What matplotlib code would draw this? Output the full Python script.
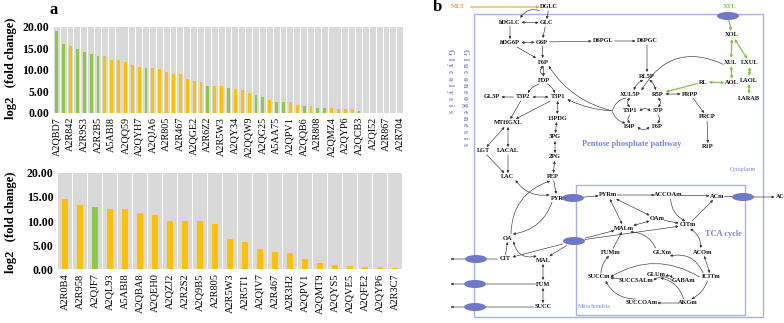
import matplotlib.pyplot as plt
import numpy as np
from matplotlib.patches import Rectangle, Ellipse

# ---------------- panel a data ----------------
top_labels = ['A2QBD7', 'A2R842', 'A2R9S3', 'A2R2B5', 'A5ABI8', 'A2QQ59', 'A2QYH7', 'A2QJA6',
              'A2R805', 'A2R467', 'A2QGE2', 'A2R6Z2', 'A2R5W3', 'A2QY34', 'A2QQW9', 'A2QG25',
              'A5AA75', 'A2QPV1', 'A2QQB6', 'A2R808', 'A2QMZ4', 'A2QYP6', 'A2QCB3', 'A2QI52',
              'A2R867', 'A2R704']
top_values = [19.0, 16.0, 15.4, 14.8, 14.0, 13.7, 13.3, 13.2, 12.3, 12.2, 11.8, 11.1, 10.7,
              10.5, 10.4, 10.1, 9.5, 9.1, 9.0, 7.8, 7.4, 7.1, 6.3, 6.3, 6.3, 5.7, 5.5, 5.3,
              4.5, 4.2, 3.7, 2.9, 2.6, 2.5, 2.4, 1.8, 1.6, 1.5, 1.2, 1.0, 1.1, 0.85, 0.8, 0.8,
              0.35, 0, 0, 0, 0, 0, 0]
top_colors = list('GGOGGGGOOOOOOGOOOOOOOOGOOGOOOGGOGGOOGOGGOOOOG') + ['O'] * 6

bot_labels = ['A2R0B4', 'A2R958', 'A2QJF7', 'A2QL93', 'A5ABI8', 'A2QBA8', 'A2QEH0', 'A2QZJ2',
              'A2R2S2', 'A2Q9B5', 'A2R805', 'A2R5W3', 'A2R5T1', 'A2QIV7', 'A2R467', 'A2R3H2',
              'A2QPV1', 'A2QMT9', 'A2QYS5', 'A2QVE5', 'A2QFE2', 'A2QYP6', 'A2R3C7']
bot_values = [14.6, 13.3, 12.9, 12.4, 12.4, 11.6, 11.2, 10.1, 10.1, 10.0, 9.4, 6.3, 5.7, 4.1,
              3.5, 3.3, 2.2, 1.4, 0.9, 0.6, 0.55, 0.5, 0.35]
bot_colors = list('OOGOOOOOOOOOOOOOOOOOOOO')

ORANGE = '#ffc000'
GREEN = '#8cc94a'
GREY = '#d9d9d9'
cmap = {'O': ORANGE, 'G': GREEN}
SERIF = 'Liberation Serif'

fig = plt.figure(figsize=(7.84, 3.23), dpi=100)
W, H = 784.0, 323.0


def ax_px(x0, y0, x1, y1):
    return fig.add_axes([x0 / W, 1 - y1 / H, (x1 - x0) / W, (y1 - y0) / H])


def style_bar_axis(ax):
    for s in ax.spines.values():
        s.set_visible(False)
    ax.set_ylim(0, 20)
    ax.set_yticks([0, 5, 10, 15, 20])
    ax.set_yticklabels([f'{v:.2f}' for v in [0, 5, 10, 15, 20]],
                       fontsize=8.5, fontweight='bold', family=SERIF)
    ax.tick_params(axis='both', length=0)
    ax.tick_params(axis='y', pad=3)
    ax.tick_params(axis='x', pad=3)


# top chart
ax1 = ax_px(53.3, 26.7, 403.7, 112.7)
n1 = len(top_values)
x1 = np.arange(n1)
ax1.bar(x1, 20, width=0.86, color=GREY, zorder=1)
ax1.bar(x1, top_values, width=0.42, color=[cmap[c] for c in top_colors[:n1]], zorder=2)
ax1.set_xlim(-0.5, n1 - 0.5)
style_bar_axis(ax1)
ax1.set_xticks(x1[::2])
ax1.set_xticklabels(top_labels, rotation=90, fontsize=7.3, family=SERIF)

# bottom chart
ax2 = ax_px(57.5, 172.7, 402.5, 269.3)
n2 = len(bot_values)
x2 = np.arange(n2)
ax2.bar(x2 - 0.25, 20, width=0.44, color=GREY, zorder=1)
ax2.bar(x2 + 0.25, 20, width=0.44, color=GREY, zorder=1)
ax2.bar(x2, bot_values, width=0.4, color=[cmap[c] for c in bot_colors], zorder=2)
ax2.set_xlim(-0.5, n2 - 0.5)
style_bar_axis(ax2)
ax2.set_xticks(x2)
ax2.set_xticklabels(bot_labels, rotation=90, fontsize=7.5, family=SERIF)

for yc in (68, 222):
    fig.text(11 / W, 1 - yc / H, 'log2   (fold change)', rotation=90, ha='center', va='center',
             fontsize=9, fontweight='bold', family=SERIF)
fig.text(49 / W, 1 - 10 / H, 'a', fontsize=12, fontweight='bold', family=SERIF, va='center')

# ---------------- panel b: pathway diagram ----------------
axb = ax_px(403.5, 0, 784, 323)
axb.set_zorder(5)
axb.set_facecolor('white')
axb.set_xlim(403.5, 784)
axb.set_ylim(323, 0)
axb.set_xticks([])
axb.set_yticks([])
for s in axb.spines.values():
    s.set_visible(False)

BLUE = '#7a84d6'
BOXC = '#a8aee6'
ELL = '#6f78c8'
LINE = '#333333'
GARR = '#86c34a'

nodes = {
    'DGLC': (549, 7), 'hDGLC': (510, 22), 'GLC': (546, 23), 'hDG6P': (510, 43), 'G6P': (542, 42),
    'D6PGL': (603, 41), 'D6PGC': (647, 41), 'F6P': (543, 62), 'FDP': (544, 80),
    'GL3P': (492, 97), 'T3P2': (523, 97), 'T3P1': (558, 97), '13PDG': (557, 118),
    'MTHGXL': (508, 123), '3PG': (555, 137), '2PG': (555, 157), 'LGT': (483, 151),
    'LACAL': (508, 151), 'LAC': (508, 177), 'PEP': (553, 177), 'PYR': (557, 198),
    'RL5P': (647, 76), 'XUL5P': (630, 94), 'R5P': (658, 94), 'PRPP': (690, 94),
    'T3P1b': (630, 111), 'S7P': (658, 111), 'E4P': (630, 127), 'F6Pb': (657, 127),
    'PRCP': (707, 117), 'R1P': (708, 147),
    'XOL': (732, 35), 'XUL': (731, 62), 'LXUL': (750, 63), 'RL': (703, 82), 'AOL': (732, 83),
    'LAOL': (749, 80), 'LARAB': (749, 98),
    'PYRm': (608, 195), 'ACCOAm': (668, 195), 'ACm': (717, 196),
    'OAm': (657, 219), 'CITm': (688, 225), 'MALm': (624, 228),
    'FUMm': (611, 252), 'GLXm': (662, 252), 'ACOm': (703, 252),
    'SUCCm': (599, 277), 'SUCCSALm': (636, 280), 'GLUm': (656, 274), 'GABAm': (684, 281),
    'ICITm': (711, 277), 'SUCCOAm': (642, 303), 'AKGm': (688, 303),
    'OA': (508, 238), 'CIT': (505, 259), 'MAL': (543, 260), 'FUM': (543, 284), 'SUCC': (543, 307),
}
ellipses = {'e_top': (728, 16), 'e_pyr': (573, 198), 'e_mid': (574, 241), 'e_acm': (743, 197),
            'e_cit': (476, 259), 'e_fum': (475, 284), 'e_succ': (475, 307)}
points = {'L1': (450, 259), 'L2': (450, 284), 'L3': (450, 307), 'AC': (775, 197),
          'hub': (612, 111), 'MLTe': (470, 7)}


def pos(n):
    if n in nodes:
        return nodes[n]
    if n in ellipses:
        return ellipses[n]
    return points[n]


def half(n):
    if n in nodes:
        return 2.0 * len(n.rstrip('b') if n in ('T3P1b', 'F6Pb') else n) + 1.5, 4.0
    if n in ellipses:
        return 11.0, 4.5
    return 0.5, 0.5


def clip(a, b):
    p, q = pos(a), pos(b)
    hw, hh = half(a)
    dx, dy = q[0] - p[0], q[1] - p[1]
    t = min(hw / abs(dx) if dx else 1e9, hh / abs(dy) if dy else 1e9)
    t = min(t, 0.45)
    return (p[0] + dx * t, p[1] + dy * t)


def edge(a, b, style='->', rad=0.0, color=LINE, lw=0.45):
    s = clip(a, b)
    e = clip(b, a)
    arrow = {'->': '-|>', '<->': '<|-|>', '-': '-'}[style]
    axb.annotate('', xy=e, xytext=s,
                 arrowprops=dict(arrowstyle=arrow, color=color, lw=lw, mutation_scale=3.5,
                                 shrinkA=0, shrinkB=0,
                                 connectionstyle=f'arc3,rad={rad}'))


# boxes
axb.add_patch(Rectangle((474, 14), 289, 303, fill=False, edgecolor=BOXC, lw=1.0))
axb.add_patch(Rectangle((576, 185), 169, 130, fill=False, edgecolor=BOXC, lw=1.0))
for n, (x, y) in ellipses.items():
    axb.add_patch(Ellipse((x, y), 22, 8, facecolor=ELL, edgecolor='none', zorder=3))

edges = [
    ('DGLC', 'hDGLC', '->', 0.4), ('DGLC', 'GLC', '->', 0),
    ('hDGLC', 'GLC', '<->', 0), ('hDGLC', 'hDG6P', '->', 0), ('GLC', 'G6P', '->', 0),
    ('hDG6P', 'G6P', '<->', 0), ('hDG6P', 'F6P', '->', 0), ('G6P', 'F6P', '->', 0),
    ('G6P', 'D6PGL', '->', 0), ('D6PGL', 'D6PGC', '->', 0), ('D6PGC', 'RL5P', '->', 0),
    ('FDP', 'F6P', '->', -0.6), ('F6P', 'FDP', '->', 0),
    ('FDP', 'T3P2', '->', 0.2), ('FDP', 'T3P1', '->', -0.2),
    ('T3P2', 'T3P1', '<->', 0), ('T3P2', 'GL3P', '->', 0),
    ('T3P2', 'MTHGXL', '->', 0), ('T3P1', 'MTHGXL', '->', 0),
    ('T3P1', '13PDG', '<->', 0), ('13PDG', '3PG', '<->', 0), ('3PG', '2PG', '<->', 0),
    ('2PG', 'PEP', '<->', 0),
    ('MTHGXL', 'LGT', '<->', 0), ('MTHGXL', 'LACAL', '<->', 0), ('LACAL', 'LAC', '->', 0),
    ('LGT', 'LAC', '->', 0),
    ('LAC', 'PYR', '<->', 0.3), ('PEP', 'PYR', '->', 0), ('PYR', 'OA', '->', -0.3),
    ('OA', 'PEP', '->', -0.35),
    ('RL5P', 'XUL5P', '<->', 0.2), ('RL5P', 'R5P', '<->', -0.2),
    ('XUL5P', 'T3P1b', '<->', 0.5), ('R5P', 'S7P', '<->', -0.5),
    ('T3P1b', 'S7P', '<->', -0.4), ('E4P', 'F6Pb', '<->', 0.4),
    ('T3P1b', 'E4P', '->', 0.5), ('S7P', 'F6Pb', '->', -0.5),
    ('R5P', 'PRPP', '<->', 0), ('PRPP', 'PRCP', '->', 0), ('PRCP', 'R1P', '->', 0),
    ('XUL', 'XUL5P', '->', 0.45),
    ('hub', 'F6P', '->', -0.2), ('hub', 'T3P1', '->', -0.1),
    ('hub', 'XUL5P', '-', -0.3), ('hub', 'E4P', '->', 0.3),
    ('PYR', 'e_pyr', '-', 0), ('e_pyr', 'PYRm', '->', 0), ('PYRm', 'ACCOAm', '->', 0),
    ('ACCOAm', 'ACm', '->', 0), ('ACm', 'e_acm', '-', 0), ('e_acm', 'AC', '->', 0),
    ('PYRm', 'OAm', '<->', 0), ('PYRm', 'MALm', '<->', 0), ('MALm', 'OAm', '<->', 0),
    ('OAm', 'CITm', '->', 0), ('ACCOAm', 'CITm', '->', 0.3), ('CITm', 'ACm', '->', 0),
    ('CITm', 'ACOm', '<->', -0.3), ('ACOm', 'ICITm', '<->', 0), ('ICITm', 'AKGm', '->', -0.2),
    ('AKGm', 'SUCCOAm', '->', 0), ('SUCCOAm', 'SUCCm', '->', -0.3),
    ('SUCCm', 'FUMm', '->', -0.2), ('FUMm', 'MALm', '->', 0), ('ICITm', 'GLXm', '->', 0.4),
    ('GLXm', 'MALm', '->', 0.3), ('AKGm', 'GLUm', '->', 0.3), ('GLUm', 'GABAm', '<->', -0.4),
    ('GABAm', 'SUCCSALm', '->', 0.4), ('SUCCSALm', 'SUCCm', '->', 0),
    ('ICITm', 'SUCCm', '->', 0.3),
    ('e_mid', 'MALm', '->', 0), ('e_mid', 'CITm', '->', 0), ('e_mid', 'CIT', '->', 0),
    ('e_mid', 'MAL', '->', 0),
    ('CIT', 'OA', '->', 0), ('OA', 'MAL', '<->', 0.5), ('MAL', 'FUM', '<->', 0),
    ('FUM', 'SUCC', '<->', 0),
    ('CIT', 'e_cit', '-', 0), ('e_cit', 'L1', '->', 0),
    ('FUM', 'e_fum', '-', 0), ('e_fum', 'L2', '->', 0),
    ('SUCC', 'e_succ', '-', 0), ('e_succ', 'L3', '->', 0),
]
for a, b, st, r in edges:
    edge(a, b, st, r)

green_edges = [
    ('e_top', 'XOL', '->'), ('XOL', 'XUL', '<->'), ('XOL', 'LXUL', '<->'), ('XUL', 'AOL', '<->'),
    ('LXUL', 'LAOL', '<->'), ('LAOL', 'LARAB', '<->'), ('AOL', 'RL', '<->'), ('RL', 'R5P', '->'),
]
for a, b, st in green_edges:
    edge(a, b, st, 0, color=GARR, lw=0.9)

edge('MLTe', 'DGLC', '->', 0, color='#f0a030', lw=0.8)

for n, (x, y) in nodes.items():
    label = n[:-1] if n in ('T3P1b', 'F6Pb') else n
    axb.text(x, y, label, ha='center', va='center', fontsize=4.6, fontweight='bold',
             family=SERIF, color='#111111', zorder=4)
axb.text(776, 197, 'AC', ha='left', va='center', fontsize=4.3, fontweight='bold',
         family=SERIF, color='#111111')
axb.text(458, 7, 'MLT', ha='center', va='center', fontsize=4.8, fontweight='bold',
         family=SERIF, color='#f0a030')
axb.text(730, 6, 'XYL', ha='center', va='center', fontsize=4.8, fontweight='bold',
         family=SERIF, color=GARR)
axb.text(437, 7, 'b', ha='center', va='center', fontsize=12, fontweight='bold', family=SERIF)

for word, x0, y0 in (('Glycolysis', 450, 52), ('Gluconeogenesis', 465, 52)):
    for i, ch in enumerate(word):
        axb.text(x0, y0 + i * 6.6, ch, rotation=270, ha='center', va='center', fontsize=5.5,
                 fontweight='bold', family=SERIF, color=BLUE)

axb.text(632, 144, 'Pentose phosphate pathway', ha='center', va='center', fontsize=6,
         fontweight='bold', family=SERIF, color=BLUE)
axb.text(743, 169, 'Cytoplasm', ha='center', va='center', fontsize=4.3, family=SERIF, color=BLUE)
axb.text(723, 234, 'TCA cycle', ha='center', va='center', fontsize=6, fontweight='bold',
         family=SERIF, color=BLUE)
axb.text(594, 307, 'Mitochondria', ha='center', va='center', fontsize=4.3, family=SERIF,
         color=BLUE)

fig.savefig('out.png', dpi=100)
